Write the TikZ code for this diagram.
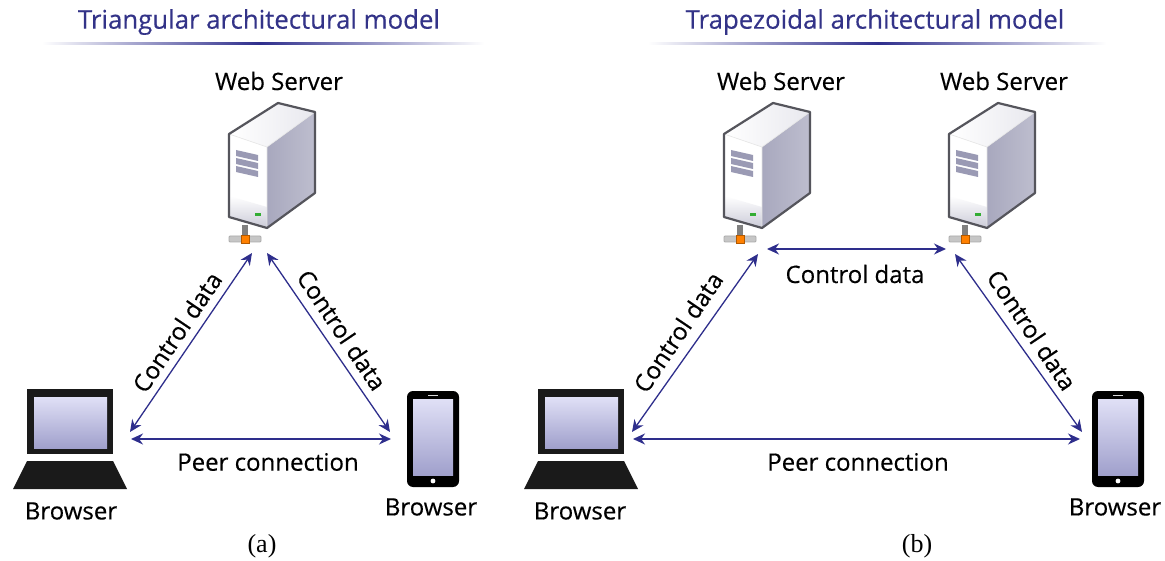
\documentclass[tikz,border=0pt]{standalone}
\usepackage{fontspec}
\setmainfont{Open Sans}[FakeBold=0.35]
\newfontfamily\capfont{Liberation Serif}
\usetikzlibrary{arrows.meta}
\definecolor{navy}{HTML}{2E2E8C}
\definecolor{titlec}{HTML}{333388}
\definecolor{scrTop}{HTML}{E0E0F6}
\definecolor{scrBot}{HTML}{A0A0CC}
\definecolor{frameK}{HTML}{1A1A1A}
\definecolor{srvSide}{HTML}{A8A8BE}
\definecolor{srvTop}{HTML}{E8E8EE}
\definecolor{srvEdge}{HTML}{55555C}
\definecolor{srvVent}{HTML}{9A9AB4}
\tikzset{
  lbl/.style={font=\fontsize{24}{26}\selectfont,text=black,inner sep=0pt},
  ttl/.style={font=\fontsize{25.8}{28}\selectfont,text=titlec,inner sep=0pt},
  capt/.style={font=\capfont\fontsize{26}{28}\selectfont,text=black,inner sep=0pt},
  link/.style={draw=navy,line width=1.3pt,{Stealth[length=12pt,width=11pt]}-{Stealth[length=12pt,width=11pt]}},
  server/.pic={
    \fill[white] (0,0) -- (38,13) -- (38,94) -- (0,83) -- cycle;
    \shade[top color=white,bottom color=srvSide!60] (0,62) -- (38,73) -- (38,94) -- (0,83) -- cycle;
    \shade[left color=srvSide,right color=srvSide!75] (38,13) -- (86,-22) -- (86,59) -- (38,94) -- cycle;
    \shade[left color=white,right color=srvTop] (0,0) -- (49,-31) -- (86,-22) -- (38,13) -- cycle;
    \draw[white!80!gray,line width=.6pt] (0,0) -- (38,13) -- (86,-22) (38,13) -- (38,94);
    \draw[srvEdge,line width=2.2pt,line join=round] (0,0) -- (49,-31) -- (86,-22) -- (86,59) -- (38,94) -- (0,83) -- cycle;
    \foreach \yy in {16,24,32}
      \fill[srvVent] (7,\yy) -- (29,\yy+5) -- (29,\yy+11) -- (7,\yy+6) -- cycle;
    \fill[green!60!black!80] (26,79) rectangle (32,82);
    \fill[gray] (13,91) rectangle (19,102);
    \fill[white!55!gray,draw=white!35!gray,line width=.8pt,rounded corners=1pt] (0,102) rectangle (32,108);
    \fill[orange,draw=orange!70!black,line width=.5pt] (12,101) rectangle (20,109);
  },
  laptop/.pic={
    \fill[frameK] (0,0) rectangle (86,65);
    \shade[top color=scrTop,bottom color=scrBot] (7,8) rectangle (80,59);
    \fill[frameK] (0,72) -- (86,72) -- (100,100) -- (-14,100) -- cycle;
  },
  phone/.pic={
    \fill[black,rounded corners=6pt] (0,0) rectangle (52,96);
    \shade[top color=scrTop,bottom color=scrBot] (6,8) rectangle (46,84);
    \fill[white!70!gray] (21,3.5) rectangle (31,5);
    \fill[white] (26,90) circle (2.4);
  }
}
\begin{document}
\begin{tikzpicture}[x=1pt,y=-1pt]
\useasboundingbox (0,0) rectangle (1165,561);
\fill[white] (0,0) rectangle (1165,561);
% titles
\node[ttl] (t1) at (259,22) {Triangular architectural model};
\node[ttl] (t2) at (875,22) {Trapezoidal architectural model};
\shade[left color=white,right color=navy,draw=none] (42,43) rectangle (259,44.2);
\shade[left color=navy,right color=white,draw=none] (259,43) rectangle (484,44.2);
\shade[left color=white,right color=navy,draw=none] (648,43) rectangle (878,44.2);
\shade[left color=navy,right color=white,draw=none] (878,43) rectangle (1106,44.2);
% left panel
\node[lbl] (w1) at (279,81) {Web Server};
\pic at (229,134) {server};
\pic at (27,389) {laptop};
\pic at (407,391) {phone};
\node[lbl] (b1) at (71,511) {Browser};
\node[lbl] (b2) at (431,507) {Browser};
\coordinate (a1) at (130,432);
\coordinate (a2) at (252,253);
\coordinate (a3) at (267,253);
\coordinate (a4) at (390,432);
\coordinate (a5) at (131,439);
\coordinate (a6) at (391,439);
\draw[link] (a1) -- (a2);
\draw[link] (a3) -- (a4);
\draw[link] (a5) -- (a6);
\node[lbl,rotate=56] (c1) at (177,332) {Control data};
\node[lbl,rotate=-56] (c2) at (342,330) {Control data};
\node[lbl] (p1) at (268,462) {Peer connection};
\node[capt] (ca) at (262,546) {(a)};
% right panel
\node[lbl] (w2) at (781,81) {Web Server};
\node[lbl] (w3) at (1004,81) {Web Server};
\pic at (724,134) {server};
\pic at (949,134) {server};
\pic at (538,389) {laptop};
\pic at (1092,391) {phone};
\node[lbl] (b3) at (580,511) {Browser};
\node[lbl] (b4) at (1115,507) {Browser};
\coordinate (d1) at (632,432);
\coordinate (d2) at (758,254);
\coordinate (d3) at (955,254);
\coordinate (d4) at (1082,432);
\coordinate (d5) at (633,439);
\coordinate (d6) at (1080,439);
\coordinate (d7) at (767,249);
\coordinate (d8) at (946,249);
\draw[link] (d1) -- (d2);
\draw[link] (d3) -- (d4);
\draw[link] (d5) -- (d6);
\draw[link] (d7) -- (d8);
\node[lbl,rotate=56] (c3) at (678,332) {Control data};
\node[lbl,rotate=-56] (c4) at (1032,330) {Control data};
\node[lbl] (c5) at (855,274) {Control data};
\node[lbl] (p2) at (858,462) {Peer connection};
\node[capt] (cb) at (917,546) {(b)};
\end{tikzpicture}
\end{document}
